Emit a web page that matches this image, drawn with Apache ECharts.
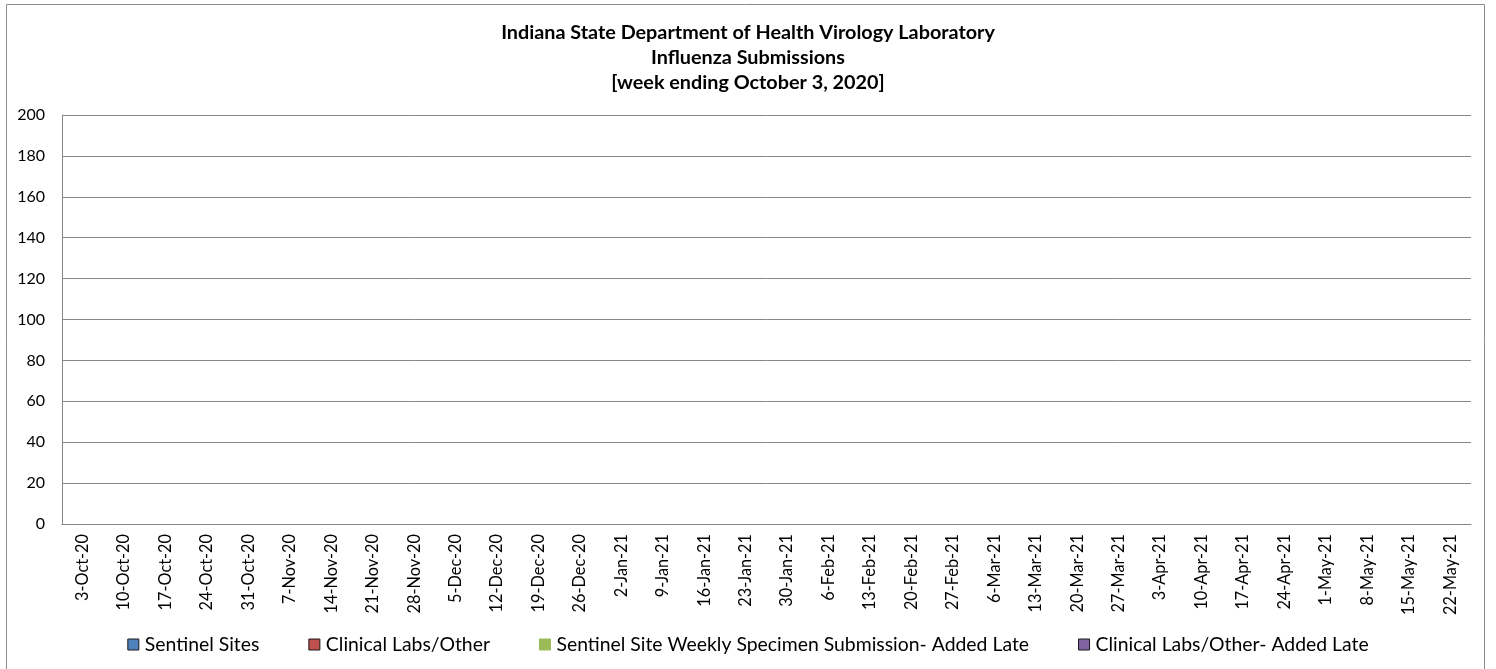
<!DOCTYPE html>
<html><head><meta charset="utf-8">
<script src="https://cdn.jsdelivr.net/npm/echarts@6/dist/echarts.min.js"></script>
<style>html,body{margin:0;padding:0;background:#fff}#c{width:1496px;height:669px}</style>
</head><body><div id="c"></div>
<script>
var weeks = ['3-Oct-20','10-Oct-20','17-Oct-20','24-Oct-20','31-Oct-20','7-Nov-20','14-Nov-20','21-Nov-20','28-Nov-20','5-Dec-20','12-Dec-20','19-Dec-20','26-Dec-20','2-Jan-21','9-Jan-21','16-Jan-21','23-Jan-21','30-Jan-21','6-Feb-21','13-Feb-21','20-Feb-21','27-Feb-21','6-Mar-21','13-Mar-21','20-Mar-21','27-Mar-21','3-Apr-21','10-Apr-21','17-Apr-21','24-Apr-21','1-May-21','8-May-21','15-May-21','22-May-21'];
var sentinelSites = [];
var clinicalLabs = [];
var sentinelLate = [];
var clinicalLate = [];
var yTicks = {min: 0, max: 200, interval: 20};
var titleLines = ['Indiana State Department of Health Virology Laboratory','Influenza Submissions','[week ending October 3, 2020]'];
var seriesNames = ['Sentinel Sites','Clinical Labs/Other','Sentinel Site Weekly Specimen Submission- Added Late','Clinical Labs/Other- Added Late'];

var FONT = "Lato, 'Open Sans', sans-serif";
var chart = echarts.init(document.getElementById('c'), null, {renderer: 'canvas'});
var colors = ['#4F81BD','#C0504D','#9BBB59','#8064A2'];
var borders = ['#1a1a1a','#1a1a1a','#9BBB59','#1a1a1a'];
var data = [sentinelSites, clinicalLabs, sentinelLate, clinicalLate];
chart.setOption({
  animation: false,
  graphic: [{type: 'rect', shape: {x: 6.5, y: 4.5, width: 1478, height: 672}, style: {fill: 'none', stroke: '#8c8c8c', lineWidth: 1}}],
  title: {text: titleLines.join('\n'), left: 'center', top: 15,
    textStyle: {fontFamily: FONT, fontWeight: 'bold', fontSize: 19.8, color: '#000', lineHeight: 25}},
  legend: {bottom: 10, left: 'center', itemWidth: 11, itemHeight: 11, itemGap: 49, icon: 'rect',
    textStyle: {fontFamily: FONT, fontSize: 19.4, color: '#000', padding: [0,0,0,1]},
    data: seriesNames.map(function(n, i){ return {name: n, itemStyle: {color: colors[i], borderColor: borders[i], borderWidth: 1}}; })},
  grid: {left: 62, right: 25, top: 115, bottom: 145, containLabel: false},
  xAxis: {type: 'category', data: weeks, boundaryGap: true,
    axisLine: {lineStyle: {color: '#868686'}}, axisTick: {show: false},
    axisLabel: {rotate: 90, interval: 0, fontFamily: FONT, fontSize: 16.3, color: '#000', margin: 10}},
  yAxis: {type: 'value', min: yTicks.min, max: yTicks.max, interval: yTicks.interval,
    axisLine: {show: true, lineStyle: {color: '#868686'}}, axisTick: {show: false},
    splitLine: {lineStyle: {color: '#868686'}},
    axisLabel: {fontFamily: FONT, fontSize: 16, color: '#000', margin: 17}},
  series: seriesNames.map(function(n, i){
    return {name: n, type: 'bar', stack: 'total', data: data[i], barWidth: '60%',
      itemStyle: {color: colors[i], borderColor: borders[i], borderWidth: 1}};
  })
});
</script></body></html>
